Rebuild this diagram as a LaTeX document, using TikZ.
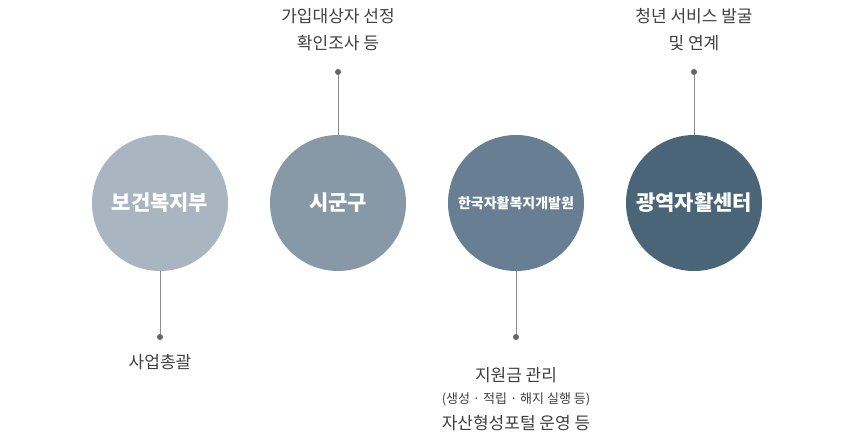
\documentclass[tikz,border=0pt]{standalone}
\usepackage{fontspec}
\setmainfont{Noto Sans CJK KR}
\begin{document}
\begin{tikzpicture}[x=1pt,y=-1pt,
  circ/.style={circle,minimum size=136pt,inner sep=0pt,text=white,font=\fontsize{21}{24}\selectfont\bfseries},
  lbl/.style={text=black!75,font=\fontsize{17}{27}\selectfont,align=center,inner sep=0pt},
  conn/.style={draw=black!45,line width=0.8pt},
  dot/.style={circle,fill=black!60,minimum size=6pt,inner sep=0pt}]
\useasboundingbox (0,0) rectangle (851,442);
\node[circ,fill={rgb,255:red,169;green,181;blue,192}] (c1) at (160,203) {보건복지부};
\node[circ,fill={rgb,255:red,135;green,152;blue,166}] (c2) at (338,203) {시군구};
\node[circ,fill={rgb,255:red,104;green,127;blue,147},font=\fontsize{14}{16}\selectfont\bfseries] (c3) at (516,203) {한국자활복지개발원};
\node[circ,fill={rgb,255:red,74;green,100;blue,120}] (c4) at (694,203) {광역자활센터};
\node[dot] (d1) at (160,337) {};
\node[dot] (d2) at (338,72) {};
\node[dot] (d3) at (516,337) {};
\node[dot] (d4) at (694,72) {};
\draw[conn] (c1) -- (d1);
\draw[conn] (c2) -- (d2);
\draw[conn] (c3) -- (d3);
\draw[conn] (c4) -- (d4);
\node[lbl] (t1) at (160,362) {사업총괄};
\node[lbl] (t2) at (338,30) {가입대상자 선정\\확인조사 등};
\node[lbl] (t4) at (694,30) {청년 서비스 발굴\\및 연계};
\node[lbl] (t3a) at (516,375) {지원금 관리};
\node[lbl,font=\fontsize{13}{15}\selectfont] (t3b) at (516,399) {(생성 · 적립 · 해지 실행 등)};
\node[lbl] (t3c) at (516,423) {자산형성포털 운영 등};
\end{tikzpicture}
\end{document}
